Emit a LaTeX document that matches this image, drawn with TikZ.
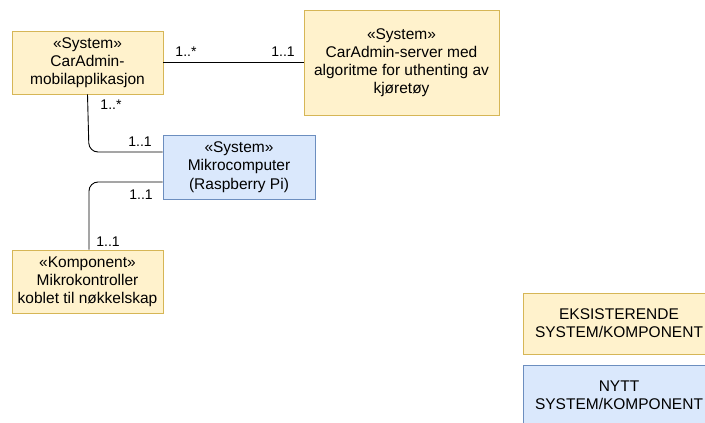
\documentclass[tikz,border=0pt]{standalone}
\usepackage{fontspec}
\setmainfont{Liberation Sans}
\definecolor{oldfill}{HTML}{FFF2CC}
\definecolor{oldline}{HTML}{D6B656}
\definecolor{newfill}{HTML}{DAE8FC}
\definecolor{newline}{HTML}{6C8EBF}
\begin{document}
\begin{tikzpicture}[x=1pt,y=-1pt,
  box/.style={rectangle,draw,line width=0.9pt,align=center,inner sep=0pt,
    font=\fontsize{15.5}{18.2}\selectfont},
  oldbox/.style={box,fill=oldfill,draw=oldline},
  newbox/.style={box,fill=newfill,draw=newline},
  link/.style={draw=black,line width=0.9pt,rounded corners=9pt},
  mult/.style={font=\fontsize{14}{16}\selectfont,inner sep=0pt}]
\clip (0,0) rectangle (705,423);
\fill[white] (0,0) rectangle (705,423);

% system boxes
\node[oldbox,minimum width=151pt,minimum height=63pt] (app) at (87.5,62.5)
  {«System»\\CarAdmin-\\mobilapplikasjon};
\node[oldbox,minimum width=195pt,minimum height=105pt] (server) at (401.5,62.5)
  {«System»\\CarAdmin-server med\\algoritme for uthenting av\\kjøretøy};
\node[newbox,minimum width=152pt,minimum height=64pt] (pi) at (239,167)
  {«System»\\Mikrocomputer\\(Raspberry Pi)};
\node[oldbox,minimum width=151pt,minimum height=63pt] (mcu) at (87.5,281.5)
  {«Komponent»\\Mikrokontroller\\koblet til nøkkelskap};

% legend
\node[oldbox,minimum width=192pt,minimum height=61pt] (legold) at (619,323.5)
  {EKSISTERENDE\\SYSTEM/KOMPONENT};
\node[newbox,minimum width=192pt,minimum height=61pt] (legnew) at (619,395.5)
  {NYTT\\SYSTEM/KOMPONENT};

% associations
\draw[link] (app.east) -- (server.west);
\draw[link] (app.south) -- (89,152) -- (pi.west |- 0,152);
\draw[link] (pi.west |- 0,182) -- (89,182) -- (mcu.north -| 89,0);

% multiplicities
\node[mult] (m1) at (186,52) {1..*};
\node[mult] (m2) at (283,52) {1..1};
\node[mult] (m3) at (111,105) {1..*};
\node[mult] (m4) at (140,142) {1..1};
\node[mult] (m5) at (141,195) {1..1};
\node[mult] (m6) at (108,242) {1..1};
\end{tikzpicture}
\end{document}
